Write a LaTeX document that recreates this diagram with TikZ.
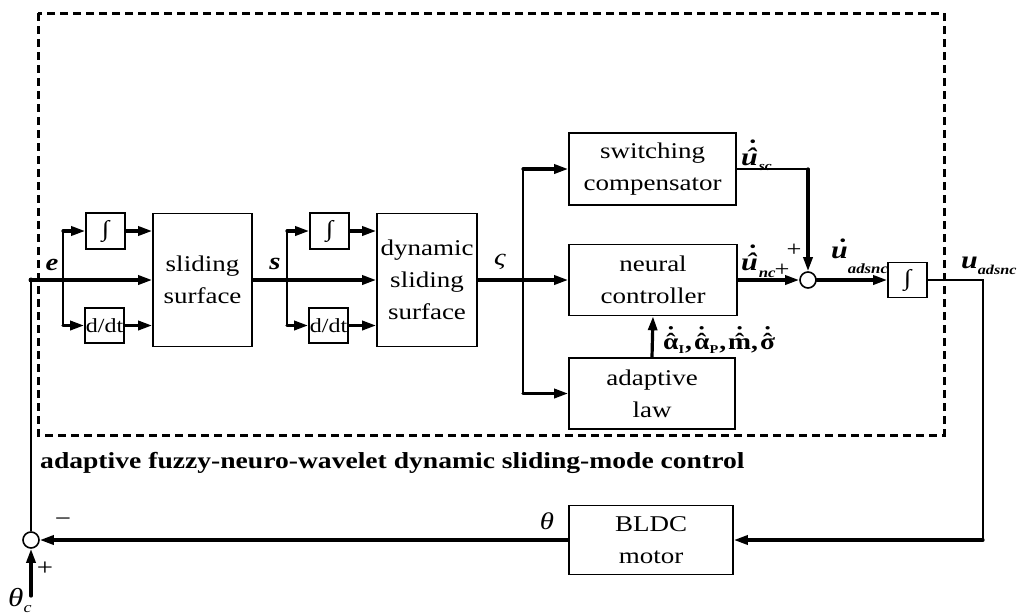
\documentclass[tikz,border=0pt]{standalone}
\usepackage{fontspec}
\setmainfont{Liberation Serif}[FakeStretch=1.2]
\usetikzlibrary{arrows.meta}
\newcommand\hdot[2][0pt]{{\ooalign{#2\cr\hidewidth\kern#1\symbol{"02C6}\hidewidth\cr\hidewidth\kern#1\raisebox{.3em}{\symbol{"02D9}}\hidewidth\cr}}}
\newcommand\donly[2][0pt]{{\ooalign{#2\cr\hidewidth\kern#1\raisebox{.05em}{\symbol{"02D9}}\hidewidth\cr}}}
\begin{document}
\begin{tikzpicture}[x=1pt,y=-1pt,
 blk/.style={draw, line width=1.6pt, inner sep=0pt, align=center, font=\fontsize{22.5}{32}\selectfont},
 sig/.style={line width=3.2pt, line cap=round, -{Triangle[length=14pt,width=9pt]}},
 wire/.style={line width=1.6pt},
 lbl/.style={inner sep=0pt},
 dotj/.style={circle, fill, inner sep=0pt, minimum size=5pt},
 sumj/.style={circle, draw, line width=1.6pt, fill=white, inner sep=0pt, minimum size=16pt}]
\useasboundingbox (0,0) rectangle (1020,614);
\draw[line width=3pt, dash pattern=on 8pt off 5pt] (38,13) rectangle (944,435);
% blocks
\node[blk, minimum width=39pt, minimum height=36pt] (i1) at (105.5,231) {∫};
\node[blk, minimum width=39pt, minimum height=35pt, font=\fontsize{20}{22}\selectfont] (d1) at (104.5,325.5) {d/dt};
\node[blk, minimum width=99pt, minimum height=133pt] (ss) at (202.5,280) {sliding\\surface};
\node[blk, minimum width=39pt, minimum height=36pt] (i2) at (329.5,231) {∫};
\node[blk, minimum width=39pt, minimum height=35pt, font=\fontsize{20}{22}\selectfont] (d2) at (328.5,325.5) {d/dt};
\node[blk, minimum width=100pt, minimum height=133pt] (ds) at (427,280) {dynamic\\sliding\\surface};
\node[blk, minimum width=167pt, minimum height=72pt] (sw) at (652.5,169) {switching\\compensator};
\node[blk, minimum width=168pt, minimum height=71pt] (nc) at (653,280) {neural\\controller};
\node[blk, minimum width=166pt, minimum height=71pt] (al) at (652,393.5) {adaptive\\law};
\node[sumj] (sum) at (808,280) {};
\node[blk, minimum width=39pt, minimum height=35pt] (i3) at (907.5,280) {∫};
\node[blk, minimum width=164pt, minimum height=69pt] (bl) at (651,540) {BLDC\\motor};
\node[sumj] (jn) at (31,540) {};
% coordinates
\coordinate (eL) at (31,280);
\coordinate (b1) at (63,280); \coordinate (b1t) at (63,231); \coordinate (b1b) at (63,325.5);
\coordinate (b2) at (287,280); \coordinate (b2t) at (287,231); \coordinate (b2b) at (287,325.5);
\coordinate (b3) at (523,280); \coordinate (b3t) at (523,169); \coordinate (b3b) at (523,393.5);
\coordinate (usc) at (808,169);
\coordinate (uo) at (983,280); \coordinate (ud) at (983,540);
\coordinate (thc) at (31,596);
% connectors
\draw[wire] (eL) -- (jn.north);
\draw[sig] (eL) -- (ss.west);
\draw[wire] (b1t) -- (b1b);
\draw[sig] (b1t) -- (i1.west);
\draw[sig] (b1b) -- (d1.west);
\draw[sig] (i1.east) -- (i1.east -| ss.west);
\draw[sig] (d1.east) -- (d1.east -| ss.west);
\draw[sig] (ss.east) -- (ds.west);
\draw[wire] (b2t) -- (b2b);
\draw[sig] (b2t) -- (i2.west);
\draw[sig] (b2b) -- (d2.west);
\draw[sig] (i2.east) -- (i2.east -| ds.west);
\draw[sig] (d2.east) -- (d2.east -| ds.west);
\draw[sig] (ds.east) -- (nc.west);
\draw[wire] (b3t) -- (b3b);
\draw[sig] (b3t) -- (sw.west);
\draw[sig] (b3b) -- (al.west);
\draw[wire] (sw.east) -- (usc);
\draw[sig] (usc) -- (sum.north);
\draw[sig] (nc.east) -- (sum.west);
\draw[sig] (sum.east) -- (i3.west);
\draw[wire] (i3.east) -- (uo) -- (ud);
\draw[sig] (ud) -- (bl.east);
\draw[sig] (bl.west) -- (jn.east);
\draw[sig] (thc) -- (jn.south);
\draw[sig] (al.north) -- (nc.south);
\foreach \p in {eL,b1,b2,b3} \node[dotj] at (\p) {};
% labels
\node[lbl, font=\bfseries\itshape\fontsize{24}{26}\selectfont] (le) at (52,265) {e};
\node[lbl, font=\bfseries\itshape\fontsize{24}{26}\selectfont] (ls) at (275,264) {s};
\node[lbl, font=\itshape\fontsize{24}{26}\selectfont] (lz) at (500,262) {ς};
\node[lbl, anchor=base west, font=\bfseries\itshape\fontsize{25}{28}\selectfont] (lsc) at (741,165) {\hdot[3pt]{u}\kern1pt\raisebox{-5pt}{\fontsize{13}{13}\selectfont sc}};
\node[lbl, anchor=base west, font=\bfseries\itshape\fontsize{25}{28}\selectfont] (lnc) at (741,270) {\hdot[3pt]{u}\kern1pt\raisebox{-7pt}{\fontsize{14}{14}\selectfont nc}};
\node[lbl, font=\fontsize{22}{24}\selectfont] (p1) at (782,270) {+};
\node[lbl, font=\fontsize{22}{24}\selectfont] (p2) at (794,250) {+};
\node[lbl, anchor=base west, font=\bfseries\itshape\fontsize{25}{28}\selectfont] (lud) at (831,258) {\donly[3pt]{u}\raisebox{-15pt}{\fontsize{14}{14}\selectfont adsnc}};
\node[lbl, anchor=base west, font=\bfseries\itshape\fontsize{25}{28}\selectfont] (lu) at (961,268) {u\raisebox{-6pt}{\fontsize{13.5}{13.5}\selectfont adsnc}};
\node[lbl, anchor=base west, font=\bfseries\fontsize{23}{25}\selectfont] (lal) at (663,349) {\hdot{α}\raisebox{-4pt}{\fontsize{12}{12}\selectfont I}\kern1pt,\kern2pt\hdot{α}\raisebox{-4pt}{\fontsize{12}{12}\selectfont P}\kern1pt,\kern2pt\hdot{m},\kern2pt\hdot{σ}};
\node[lbl, font=\itshape\fontsize{24}{26}\selectfont] (lth) at (547,521) {θ};
\node[lbl, font=\fontsize{24}{26}\selectfont] (lm) at (63,522) {−};
\node[lbl, font=\fontsize{24}{26}\selectfont] (lp) at (45,569) {+};
\node[lbl, anchor=base west, font=\itshape\fontsize{26}{28}\selectfont] (lthc) at (8,606) {θ\raisebox{-6pt}{\fontsize{15}{15}\selectfont c}};
\node[lbl, anchor=base west, font=\bfseries\fontsize{23}{25}\selectfont] (ttl) at (40,468) {adaptive fuzzy-neuro-wavelet dynamic sliding-mode control};
\end{tikzpicture}
\end{document}
